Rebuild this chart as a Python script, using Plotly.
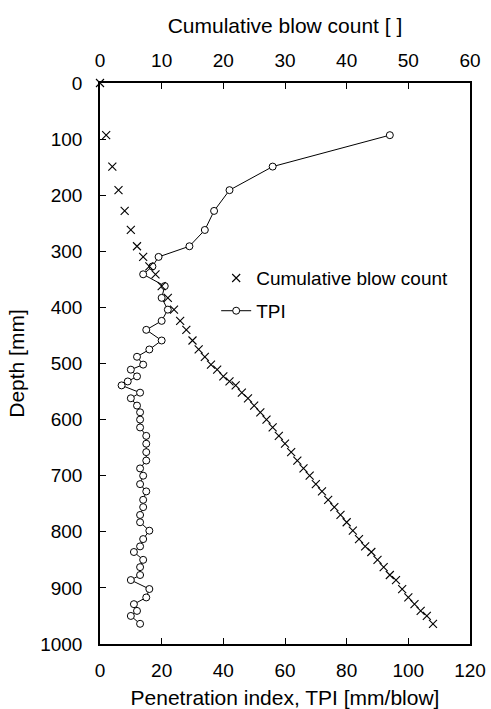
import plotly.graph_objects as go

# Cumulative blow count (top axis) vs depth
blow_count = [0, 1, 2, 3, 4, 5, 6, 7, 8, 9, 10, 11, 12, 13, 14, 15, 16, 17, 18, 19,
              20, 21, 22, 23, 24, 25, 26, 27, 28, 29, 30, 31, 32, 33, 34, 35, 36, 37,
              38, 39, 40, 41, 42, 43, 44, 45, 46, 47, 48, 49, 50, 51, 52, 53, 54]
blow_depth = [0, 93, 149, 191, 228, 262, 291, 310, 327, 341, 362, 383, 404, 424, 440,
              459, 475, 488, 502, 511, 523, 532, 539, 552, 562, 575, 587, 600, 614, 629,
              643, 658, 673, 687, 700, 715, 728, 743, 756, 770, 783, 798, 813, 826, 836,
              850, 863, 877, 886, 902, 917, 929, 941, 950, 964]

# TPI (bottom axis) vs depth
tpi_depth = [93, 149, 191, 228, 262, 291, 310, 327, 341, 362, 383, 404, 424, 440,
             459, 475, 488, 502, 511, 523, 532, 539, 552, 562, 575, 587, 600, 614, 629,
             643, 658, 673, 687, 700, 715, 728, 743, 756, 770, 783, 798, 813, 826, 836,
             850, 863, 877, 886, 902, 917, 929, 941, 950, 964]
tpi = [94, 56, 42, 37, 34, 29, 19, 17, 14, 21, 20, 22, 20, 15, 20, 16, 12, 14, 10, 12,
       9, 7, 13, 10, 12, 13, 13, 13, 15, 15, 15, 15, 13, 14, 13, 15, 14, 14, 13, 13,
       16, 14, 13, 11, 14, 13, 13, 10, 16, 15, 11, 12, 10, 13]

FONT = "Liberation Sans, Arial, sans-serif"

fig = go.Figure()
fig.add_trace(go.Scatter(
    x=blow_count, y=blow_depth, xaxis="x2", yaxis="y",
    mode="markers", name="Cumulative blow count",
    marker=dict(symbol="x-thin", size=8, color="black",
                line=dict(color="black", width=1.1)),
    cliponaxis=False, legendgroup="a",
))
fig.add_trace(go.Scatter(
    x=tpi, y=tpi_depth, xaxis="x", yaxis="y",
    mode="lines+markers", name="TPI",
    line=dict(color="black", width=1),
    marker=dict(symbol="circle", size=7, color="white",
                line=dict(color="black", width=1)),
    cliponaxis=False, legendgroup="b",
))

axis_common = dict(showgrid=False, zeroline=False, showline=True,
                   linecolor="black", linewidth=1.5, ticks="inside",
                   ticklen=6, tickwidth=1, tickcolor="black", automargin=False,
                   tickfont=dict(family=FONT, size=19, color="black"))

fig.update_layout(
    width=491, height=709,
    margin=dict(l=100, r=21, t=83, b=65, autoexpand=False),
    paper_bgcolor="white", plot_bgcolor="white",
    font=dict(family=FONT, size=19, color="black"),
    xaxis=dict(range=[0, 120], dtick=20, tick0=0,
               title=dict(text="Penetration index, TPI [mm/blow]",
                          font=dict(family=FONT, size=21, color="black"),
                          standoff=13),
               ticklabelstandoff=8,
               **axis_common),
    xaxis2=dict(range=[0, 60], dtick=10, tick0=0, overlaying="x", side="top",
                title=dict(text="Cumulative blow count [ ]",
                           font=dict(family=FONT, size=21, color="black"),
                           standoff=10),
                ticklabelstandoff=7,
                **axis_common),
    yaxis=dict(range=[1000, 0], dtick=100, tick0=0, mirror=True,
               title=dict(text="Depth [mm]",
                          font=dict(family=FONT, size=21, color="black"),
                          standoff=10),
               ticklabelstandoff=12,
               **axis_common),
    legend=dict(x=0.314, y=0.686, xanchor="left", yanchor="top",
                bgcolor="rgba(0,0,0,0)", borderwidth=0,
                font=dict(family=FONT, size=19, color="black"),
                itemwidth=30,
                traceorder="grouped", tracegroupgap=5),
    showlegend=True,
)

fig.write_html("out.html")
